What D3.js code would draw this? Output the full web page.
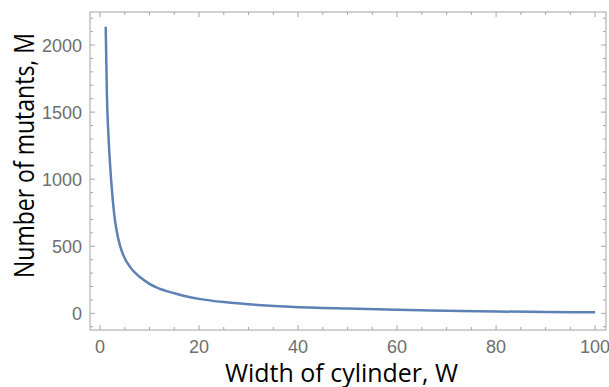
<!DOCTYPE html>
<html>
<head>
<meta charset="utf-8">
<script src="https://cdnjs.cloudflare.com/ajax/libs/d3/7.8.5/d3.min.js"></script>
<style>
  body { margin: 0; background: #fff; }
  svg { display: block; }
</style>
</head>
<body>
<script>
// values
var widthW = [1.15, 1.4, 1.7, 2.0, 2.5, 3.0, 3.5, 4.0, 4.7, 6.0, 7.0, 8.0, 10, 11.4, 15, 18.2, 20, 25, 30, 38.4, 50, 60, 70, 80, 90, 100];
var mutantsM = [2136, 1620, 1330, 1130, 880, 700, 590, 510, 434, 350, 305, 273, 220, 194, 150, 120, 108, 84, 68, 50, 36, 27, 20, 14, 10, 7.5];
var xTicks = [0, 20, 40, 60, 80, 100];
var yTicks = [0, 500, 1000, 1500, 2000];

var W = 609, H = 387;
var pLeft = 90, pRight = 606, pTop = 12, pBottom = 330;

var svg = d3.select("body").append("svg")
    .attr("width", W)
    .attr("height", H);

var x = d3.scaleLinear().domain([-2.02, 102.2]).range([pLeft, pRight]);
var y = d3.scaleLinear().domain([-124, 2246]).range([pBottom, pTop]);

// minor tick positions
var xMinor = d3.range(0, 101, 5).filter(function(v) { return xTicks.indexOf(v) < 0; });
var yMinor = d3.range(-100, 2201, 100).filter(function(v) { return yTicks.indexOf(v) < 0; });

var tickColor = "#a6a6a6";

// frame
svg.append("rect")
    .attr("x", pLeft).attr("y", pTop)
    .attr("width", pRight - pLeft).attr("height", pBottom - pTop)
    .attr("fill", "none")
    .attr("stroke", "#b3b3b3")
    .attr("stroke-width", 1.2);

// ticks on all four sides, pointing inward
function vTicks(vals, len) {
    vals.forEach(function(v) {
        svg.append("line").attr("x1", x(v)).attr("x2", x(v))
            .attr("y1", pBottom).attr("y2", pBottom - len)
            .attr("stroke", tickColor).attr("stroke-width", 1);
        svg.append("line").attr("x1", x(v)).attr("x2", x(v))
            .attr("y1", pTop).attr("y2", pTop + len)
            .attr("stroke", tickColor).attr("stroke-width", 1);
    });
}
function hTicks(vals, len) {
    vals.forEach(function(v) {
        svg.append("line").attr("y1", y(v)).attr("y2", y(v))
            .attr("x1", pLeft).attr("x2", pLeft + len)
            .attr("stroke", tickColor).attr("stroke-width", 1);
        svg.append("line").attr("y1", y(v)).attr("y2", y(v))
            .attr("x1", pRight).attr("x2", pRight - len)
            .attr("stroke", tickColor).attr("stroke-width", 1);
    });
}
vTicks(xTicks, 5);
vTicks(xMinor, 3);
hTicks(yTicks, 5);
hTicks(yMinor, 3);

// tick labels
svg.selectAll("text.xl").data(xTicks).enter().append("text")
    .attr("class", "xl")
    .attr("x", function(d) { return x(d); })
    .attr("y", 353)
    .attr("text-anchor", "middle")
    .attr("font-family", "Liberation Sans, Arial, sans-serif")
    .attr("font-size", 18)
    .attr("fill", "#6e6e6e")
    .text(function(d) { return d; });

svg.selectAll("text.yl").data(yTicks).enter().append("text")
    .attr("class", "yl")
    .attr("x", 82)
    .attr("y", function(d) { return y(d) + 6.5; })
    .attr("text-anchor", "end")
    .attr("font-family", "Liberation Sans, Arial, sans-serif")
    .attr("font-size", 18)
    .attr("fill", "#6e6e6e")
    .text(function(d) { return d; });

// axis titles
svg.append("text")
    .attr("x", 341.5).attr("y", 381.5)
    .attr("text-anchor", "middle")
    .attr("font-family", "Open Sans, sans-serif")
    .attr("font-size", 25)
    .attr("fill", "#000")
    .attr("textLength", 233)
    .attr("lengthAdjust", "spacingAndGlyphs")
    .text("Width of cylinder, W");

svg.append("text")
    .attr("transform", "translate(33.5,155.5) rotate(-90)")
    .attr("text-anchor", "middle")
    .attr("font-family", "Open Sans, sans-serif")
    .attr("font-size", 27)
    .attr("fill", "#000")
    .attr("textLength", 245)
    .attr("lengthAdjust", "spacingAndGlyphs")
    .text("Number of mutants, M");

// the curve
var pts = widthW.map(function(w, i) { return [w, mutantsM[i]]; });
var line = d3.line()
    .x(function(d) { return x(d[0]); })
    .y(function(d) { return y(d[1]); })
    .curve(d3.curveMonotoneX);

svg.append("path")
    .datum(pts)
    .attr("d", line)
    .attr("fill", "none")
    .attr("stroke", "#5e81b5")
    .attr("stroke-width", 2.5);
</script>
</body>
</html>
